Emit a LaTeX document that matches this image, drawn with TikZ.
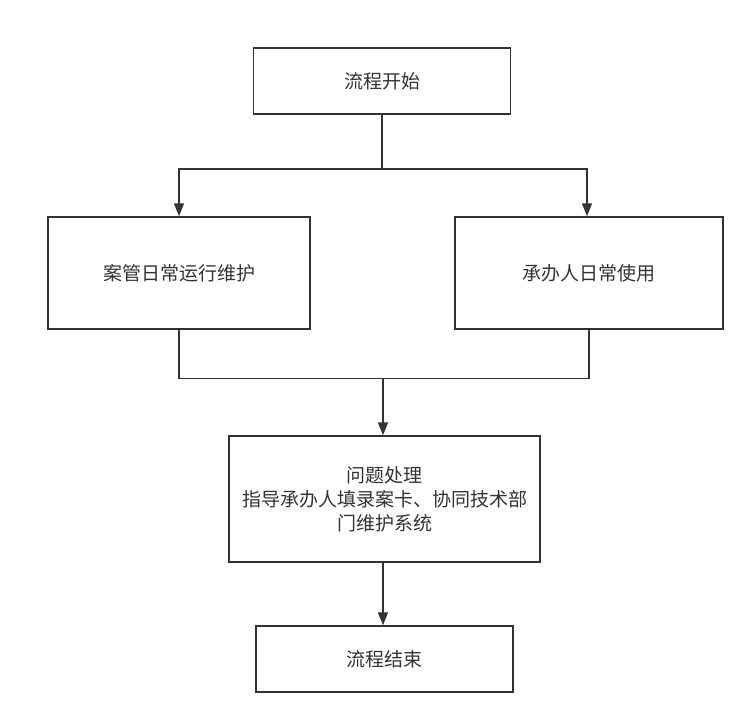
\documentclass[tikz,border=0pt]{standalone}
\usepackage{fontspec}
\setmainfont{Noto Sans CJK SC}
\usetikzlibrary{arrows.meta}
\definecolor{ln}{HTML}{333333}
\definecolor{tx}{HTML}{333333}
\begin{document}
\begin{tikzpicture}[x=1pt,y=-1pt,
  box/.style={draw=ln,line width=1.4pt,fill=white,inner sep=0pt,text=tx,
    font=\fontsize{19}{24}\selectfont,align=center},
  conn/.style={draw=ln,line width=1.4pt},
  arr/.style={conn,-{Triangle[width=10pt,length=13pt]}}]
\useasboundingbox (0,0) rectangle (755,725);
\node[box,minimum width=257pt,minimum height=66pt] (start) at (382,81) {流程开始};
\node[box,minimum width=262pt,minimum height=112pt] (left) at (179,273) {案管日常运行维护};
\node[box,minimum width=268pt,minimum height=112pt] (right) at (589,273) {承办人日常使用};
\node[box,minimum width=311pt,minimum height=126pt] (prob) at (384.5,499) {问题处理\\指导承办人填录案卡、协同技术部\\门维护系统};
\node[box,minimum width=257pt,minimum height=66pt] (end) at (384.5,659) {流程结束};
\coordinate (s1) at (382,169);
\coordinate (m1) at (383,378.5);
\draw[conn] (start.south) -- (s1);
\draw[arr] (s1) -| (left.north);
\draw[arr] (s1) -| ([xshift=-2pt]right.north);
\draw[conn] (left.south) |- (m1);
\draw[conn] (right.south) |- (m1);
\draw[arr] (m1) -- (m1 |- prob.north);
\draw[arr] (prob.south -| m1) -- (m1 |- end.north);
\end{tikzpicture}
\end{document}
